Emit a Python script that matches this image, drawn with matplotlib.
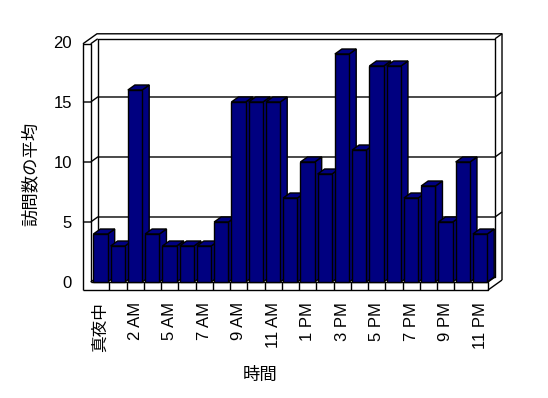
import matplotlib
matplotlib.use("Agg")
import matplotlib.pyplot as plt
from matplotlib.patches import Polygon

plt.rcParams['font.family'] = ['Liberation Sans', 'Noto Sans CJK JP']

# data
hours = ['真夜中', '1 AM', '2 AM', '3 AM', '5 AM', '6 AM', '7 AM', '8 AM',
         '9 AM', '10 AM', '11 AM', '12 PM', '1 PM', '2 PM', '3 PM', '4 PM',
         '5 PM', '6 PM', '7 PM', '8 PM', '9 PM', '10 PM', '11 PM']
visits = [4, 3, 16, 4, 3, 3, 3, 5, 15, 15, 15, 7, 10, 9, 19, 11, 18, 18,
          7, 8, 5, 10, 4]
yticks = [0, 5, 10, 15, 20]

bar_color = '#000080'
W = 0.83            # bar width
DDX, DDY = 0.406, 0.417   # depth offset in data units
XL_OUT, XL_IN = -1.02, -0.57
XR = len(hours) - 0.54
YTOP, YBOT = 19.85, -0.67


def P(x, y, d):
    return (x + d * DDX, y + d * DDY)


def seg(ax, *pts, z=1):
    xs = [p[0] for p in pts]
    ys = [p[1] for p in pts]
    ax.plot(xs, ys, color='black', lw=1, clip_on=False, zorder=z,
            solid_capstyle='butt')


fig = plt.figure(figsize=(5.48, 3.98), dpi=100)
ax = fig.add_axes([90.7 / 548, 116 / 398, 397.3 / 548, 240 / 398])
ax.set_xlim(XL_IN, XR)
ax.set_ylim(0, 20)
for s in ax.spines.values():
    s.set_visible(False)
ax.patch.set_visible(False)

# walls / floor frame
seg(ax, P(XL_OUT, YBOT, 0), P(XL_OUT, YTOP, 0), P(XL_IN, YTOP, 0), P(XL_IN, 0, 0))
seg(ax, P(XL_OUT, YTOP, 0), P(XL_OUT, YTOP, 2), P(XR, YTOP, 2), P(XR, YBOT, 2))
seg(ax, P(XL_IN, YTOP, 0), P(XL_IN, YTOP, 1))
seg(ax, P(XL_IN, 0, 1), P(XL_IN, YTOP, 1), P(XR, YTOP, 1), P(XR, 0, 1), P(XL_IN, 0, 1))
seg(ax, P(XR, YTOP, 1), P(XR, YTOP, 2))
seg(ax, P(XL_IN, 0, 0), P(XR, 0, 0), P(XR, YBOT, 0), P(XL_OUT, YBOT, 0))
seg(ax, P(XR, 0, 0), P(XR, 0, 1))
seg(ax, P(XR, YBOT, 0), P(XR, YBOT, 2))
seg(ax, P(XL_IN, 0, 0), P(XL_IN, 0, 1))
for i in range(len(hours) - 1):
    seg(ax, P(i + 0.51, YBOT, 0), P(i + 0.51, 0, 0))

# gridlines
for v in yticks[1:-1]:
    seg(ax, P(XL_OUT, v, 0), P(XL_IN, v, 0), P(XL_IN, v, 1), P(XR, v, 1), P(XR, v, 2))

# bars
x = list(range(len(hours)))
bars = ax.bar(x, visits, width=W, color=bar_color, edgecolor='black', linewidth=1)
for i, (b, v) in enumerate(zip(bars, visits)):
    l, r = i - W / 2, i + W / 2
    top = Polygon([P(l, v, 0), P(r, v, 0), P(r, v, 1), P(l, v, 1)],
                  closed=True, facecolor=bar_color, edgecolor='black', lw=1,
                  zorder=3 + 2 * i, clip_on=False)
    side = Polygon([P(r, 0, 0), P(r, v, 0), P(r, v, 1), P(r, 0, 1)],
                   closed=True, facecolor=bar_color, edgecolor='black', lw=1,
                   zorder=3 + 2 * i, clip_on=False)
    ax.add_patch(side)
    ax.add_patch(top)
    b.set_zorder(4 + 2 * i)
    b.set_clip_on(False)

ax.set_yticks(yticks)
ax.set_yticklabels([str(t) for t in yticks], fontsize=12)
ax.set_xticks(x[::2])
ax.set_xticklabels(hours[::2], rotation=90, fontsize=12, va='top')
ax.tick_params(axis='y', length=0, pad=13.4)
ax.tick_params(axis='x', length=0, pad=14.4)

ax.set_ylabel('訪問数の平均', fontsize=12.5, va='center')
ax.yaxis.set_label_coords(-0.153, 0.45)
ax.set_xlabel('時間', fontsize=12.5)
ax.xaxis.set_label_coords(0.426, -0.3875)
ax.xaxis.label.set_va('center')

fig.savefig('out.png', dpi=100)
